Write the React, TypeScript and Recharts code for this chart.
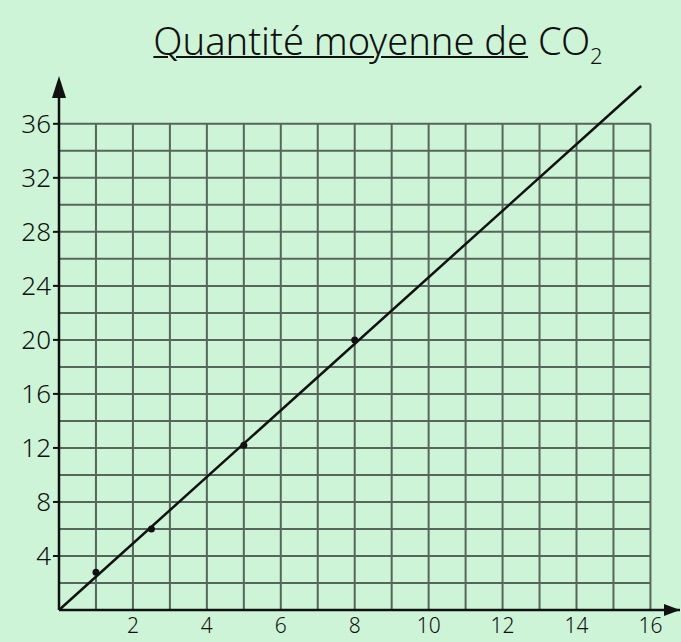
import {
  ComposedChart,
  Line,
  ReferenceDot,
  ReferenceLine,
  Scatter,
  XAxis,
  YAxis
} from "recharts";

// measured points (x, y)
const measures = [
  { x: 1, y: 2.8 },
  { x: 2.5, y: 6 },
  { x: 5, y: 12.2 },
  { x: 8, y: 20 }
];

// drawn trend line, from origin past the top of the grid
const trendLine = [
  { x: 0, y: 0 },
  { x: 15.75, y: 38.8 }
];

const xTicks = [2, 4, 6, 8, 10, 12, 14, 16];
const yTicks = [4, 8, 12, 16, 20, 24, 28, 32, 36];

// squared paper lines
const gridX = [1, 2, 3, 4, 5, 6, 7, 8, 9, 10, 11, 12, 13, 14, 15, 16];
const gridY = [2, 4, 6, 8, 10, 12, 14, 16, 18, 20, 22, 24, 26, 28, 30, 32, 34, 36];

const paper = "#cdf4d6";
const gridColor = "#56665a";
const ink = "#111111";
const font = "'Noto Sans', sans-serif";

function UpArrow(props: any) {
  const { cx, cy } = props;
  return <path d={`M${cx},${cy - 10} L${cx - 7},${cy + 12} L${cx + 7},${cy + 12} Z`} fill={ink} />;
}

function RightArrow(props: any) {
  const { cx, cy } = props;
  return <path d={`M${cx},${cy} L${cx - 16},${cy - 6} L${cx - 16},${cy + 6} Z`} fill={ink} />;
}

function XTick(props: any) {
  const { x, y, payload } = props;
  return (
    <text x={x} y={y + 17} textAnchor="middle" fill={ink} fontSize={21} fontFamily={font} fontWeight={300}>
      {payload.value}
    </text>
  );
}

export default function App() {
  return (
    <div
      style={{
        position: "absolute",
        left: 0,
        top: 0,
        width: 681,
        height: 642,
        background: paper,
        fontFamily: font,
        overflow: "hidden"
      }}
    >
      <div
        style={{
          position: "absolute",
          left: 0,
          width: 756,
          top: 14,
          textAlign: "center",
          fontSize: 38,
          fontWeight: 300,
          color: ink
        }}
      >
        <span style={{ textDecoration: "underline", textDecorationThickness: 2 }}>
          Quantité moyenne de
        </span>{" "}
        CO<sub style={{ fontSize: 22 }}>2</sub>
      </div>
      <ComposedChart
        width={681}
        height={642}
        margin={{ top: 86, right: 1, bottom: 0, left: 0 }}
      >
        <XAxis
          type="number"
          dataKey="x"
          domain={[0, 16.8]}
          ticks={xTicks}
          interval={0}
          height={32}
          axisLine={{ stroke: ink, strokeWidth: 2.5 }}
          tickLine={false}
          tick={<XTick />}
          tickMargin={0}
        />
        <YAxis
          type="number"
          dataKey="y"
          domain={[0, 38.8]}
          ticks={yTicks}
          interval={0}
          width={59}
          axisLine={{ stroke: ink, strokeWidth: 2.5 }}
          tickLine={{ stroke: ink, strokeWidth: 2 }}
          tickSize={6}
          tick={{ fill: ink, fontSize: 26, fontFamily: font, fontWeight: 300 }}
        />
        {gridX.map((v) => (
          <ReferenceLine
            key={`gx${v}`}
            segment={[{ x: v, y: 0 }, { x: v, y: 36 }]}
            stroke={gridColor}
            strokeWidth={2}
          />
        ))}
        {gridY.map((v) => (
          <ReferenceLine
            key={`gy${v}`}
            segment={[{ x: 0, y: v }, { x: 16, y: v }]}
            stroke={gridColor}
            strokeWidth={2}
          />
        ))}
        <Line
          data={trendLine}
          dataKey="y"
          type="linear"
          stroke={ink}
          strokeWidth={2.5}
          dot={false}
          isAnimationActive={false}
        />
        <Scatter data={measures} fill={ink} isAnimationActive={false} shape={(p: any) => <circle cx={p.cx} cy={p.cy} r={3.5} fill={ink} />} />
        <ReferenceDot x={0} y={38.8} ifOverflow="visible" shape={UpArrow} />
        <ReferenceDot x={16.8} y={0} ifOverflow="visible" shape={RightArrow} />
      </ComposedChart>
    </div>
  );
}
